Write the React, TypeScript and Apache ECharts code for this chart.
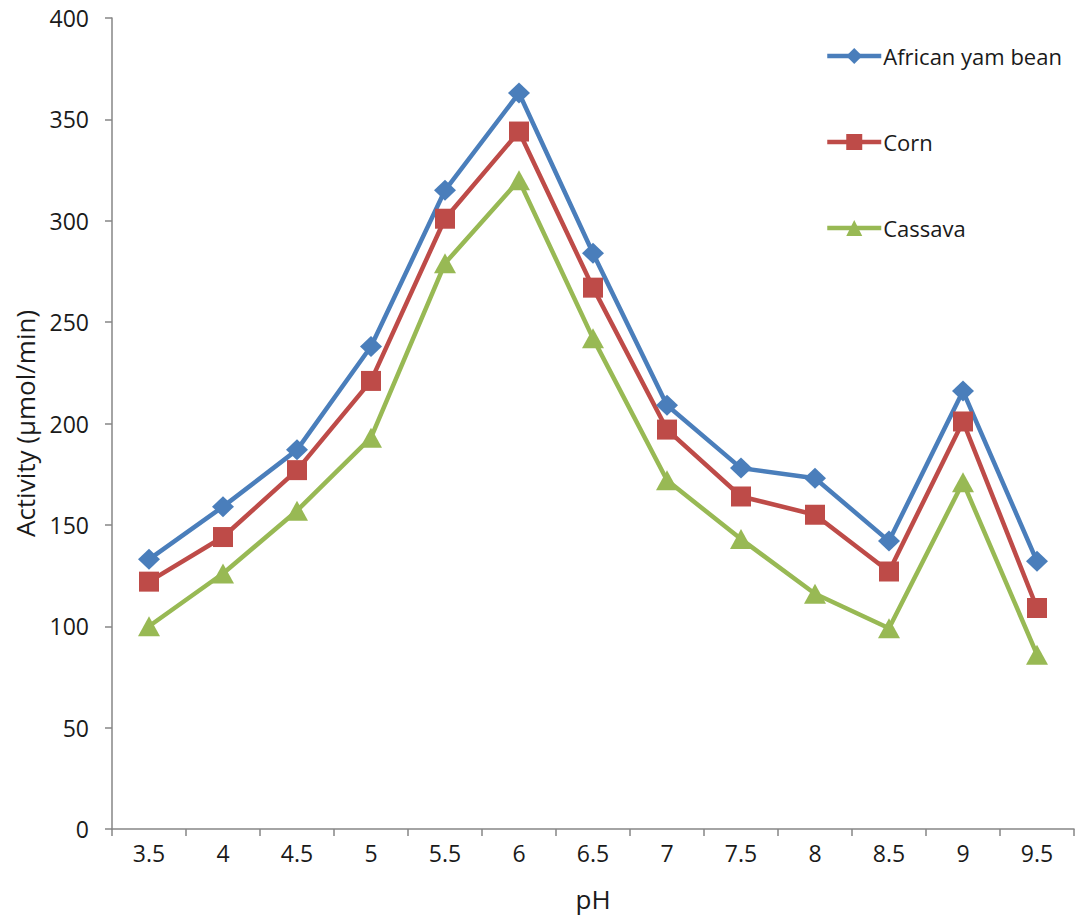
import React, { useEffect, useRef } from "react";
import * as echarts from "echarts";

const phLevels = ["3.5", "4", "4.5", "5", "5.5", "6", "6.5", "7", "7.5", "8", "8.5", "9", "9.5"];
const africanYamBean = [133, 159, 187, 238, 315, 363, 284, 209, 178, 173, 142, 216, 132];
const corn = [122, 144, 177, 221, 301, 344, 267, 197, 164, 155, 127, 201, 109];
const cassava = [100, 126, 157, 193, 279, 320, 242, 172, 143, 116, 99, 171, 86];

const FONT = "'Open Sans', 'Noto Sans', sans-serif";
const AXIS_GRAY = "#868686";
const TEXT = "#1a1a1a";

export default function App() {
  const ref = useRef<HTMLDivElement>(null);

  useEffect(() => {
    document.body.style.margin = "0";
    const chart = echarts.init(ref.current!, null, { renderer: "svg" });
    const line = (name: string, data: number[], color: string, symbol: string, size: number | number[]) => ({
      name,
      type: "line",
      data,
      symbol,
      symbolSize: size,
      showSymbol: true,
      itemStyle: { color },
      lineStyle: { color, width: 4.5 },
    });
    chart.setOption({
      animation: false,
      backgroundColor: "#ffffff",
      textStyle: { fontFamily: FONT },
      grid: { left: 112, right: 2, top: 18, bottom: 88, containLabel: false, outerBoundsMode: "none" },
      legend: {
        orient: "vertical",
        left: 820,
        top: 40,
        itemWidth: 54,
        itemHeight: 20,
        itemGap: 64,
        lineStyle: { width: 4.5 },
        textStyle: { fontFamily: FONT, fontSize: 22, lineHeight: 20, color: TEXT, padding: [0, 0, 0, -3] },
        data: ["African yam bean", "Corn", "Cassava"],
      },
      xAxis: {
        type: "category",
        data: phLevels,
        boundaryGap: true,
        name: "pH",
        nameLocation: "middle",
        nameGap: 57,
        nameTextStyle: { fontFamily: FONT, fontSize: 26, color: TEXT },
        axisLine: { lineStyle: { color: AXIS_GRAY, width: 1.5 } },
        axisTick: { show: true, length: 7, lineStyle: { color: AXIS_GRAY, width: 1.5 } },
        axisLabel: { fontFamily: FONT, fontSize: 23, color: TEXT, margin: 12 },
        splitLine: { show: false },
      },
      yAxis: {
        type: "value",
        min: 0,
        max: 400,
        interval: 50,
        name: "Activity (µmol/min)",
        nameLocation: "middle",
        nameGap: 74,
        nameRotate: 90,
        nameTextStyle: { fontFamily: FONT, fontSize: 26, color: TEXT },
        axisLine: { show: true, lineStyle: { color: AXIS_GRAY, width: 1.5 } },
        axisTick: { show: true, length: 7, lineStyle: { color: AXIS_GRAY, width: 1.5 } },
        axisLabel: { fontFamily: FONT, fontSize: 23, color: TEXT, margin: 23 },
        splitLine: { show: false },
      },
      series: [
        line("African yam bean", africanYamBean, "#4A7EBB", "diamond", [22, 21]),
        line("Corn", corn, "#BE4B48", "rect", 20),
        line("Cassava", cassava, "#98B954", "triangle", [22, 20]),
      ],
    });
    return () => chart.dispose();
  }, []);

  return <div ref={ref} style={{ width: 1076, height: 917 }} />;
}
